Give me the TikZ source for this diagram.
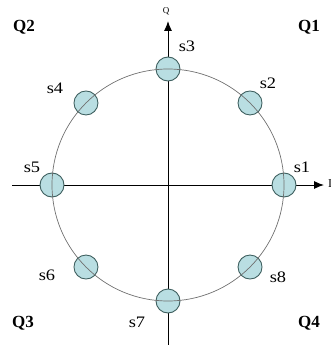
\documentclass[tikz,border=0pt]{standalone}
\usepackage{fontspec}
\setmainfont{Liberation Serif}
\usetikzlibrary{arrows.meta,calc}
\definecolor{ptfill}{HTML}{B9DEE2}
\definecolor{ptdraw}{HTML}{3E5F5F}
\definecolor{ring}{HTML}{707070}
\tikzset{
  pt/.style={circle,draw=ptdraw,line width=0.9pt,fill=ptfill,minimum size=24pt,inner sep=0pt},
  axis/.style={line width=1pt,-{Latex[length=10pt,width=8pt]}},
  slab/.style={font=\fontsize{16}{16}\selectfont,inner sep=0pt,xscale=1.15},
  qlab/.style={font=\fontsize{17}{17}\selectfont\bfseries,inner sep=0pt}
}
\begin{document}
\begin{tikzpicture}[x=1pt,y=-1pt]
\useasboundingbox (0,0) rectangle (331,345);
\coordinate (O) at (168,185);
\coordinate (xl) at (12,185);
\coordinate (xr) at (324,185);
\coordinate (yt) at (168,21);
\coordinate (yb) at (168,345);
\draw[line width=1pt] (yb) -- (O);
\draw[axis] (O) -- (yt);
\draw[line width=1pt] (xl) -- (O);
\draw[axis] (O) -- (xr);
\foreach \i/\a in {1/0,2/45,3/90,4/135,5/180,6/225,7/270,8/315}{
  \node[pt] (s\i) at ($(O)+(\a:116 and -116)$) {};
}
\draw[ring,line width=0.7pt] (O) circle [radius=116pt];
\node[font=\fontsize{9}{9}\selectfont,inner sep=0pt] (qq) at (166,11) {Q};
\node[font=\fontsize{12}{12}\selectfont,inner sep=0pt,anchor=west] (ii) at (328,184) {I};
\node[slab] (l1) at (302,167) {s1};
\node[slab] (l2) at (268,83) {s2};
\node[slab] (l3) at (187,46) {s3};
\node[slab] (l4) at (55,88) {s4};
\node[slab] (l5) at (32,167) {s5};
\node[slab] (l6) at (47,275) {s6};
\node[slab] (l7) at (137,322) {s7};
\node[slab] (l8) at (278,277) {s8};
\node[qlab] (q2) at (24,27) {Q2};
\node[qlab] (q1) at (309,27) {Q1};
\node[qlab] (q3) at (23,323) {Q3};
\node[qlab] (q4) at (309,323) {Q4};
\end{tikzpicture}
\end{document}
